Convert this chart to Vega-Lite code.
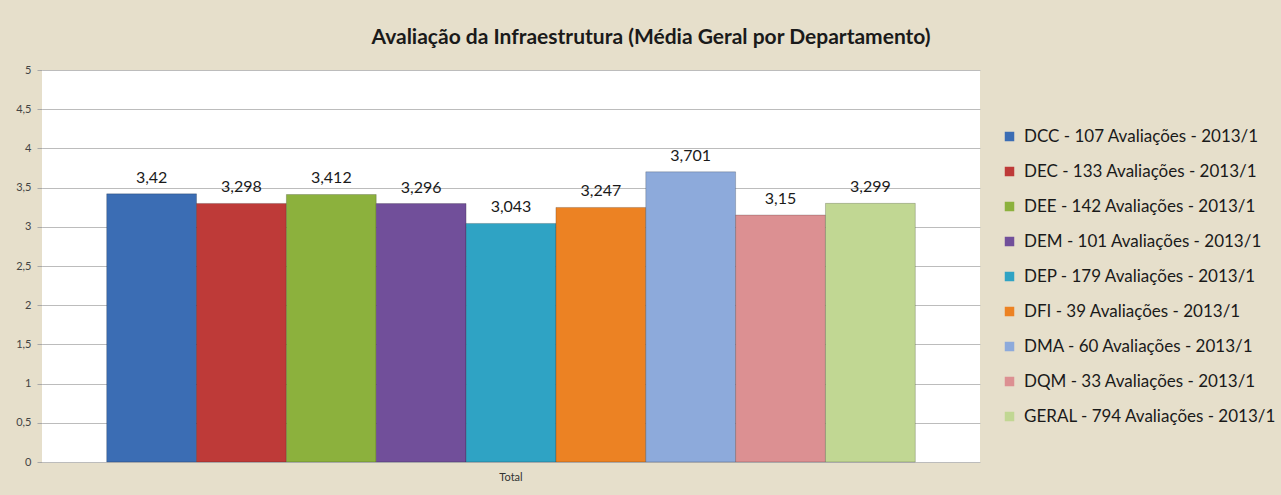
{
  "$schema": "https://vega.github.io/schema/vega-lite/v6.json",
  "width": 938,
  "height": 392,
  "autosize": {"type": "none"},
  "padding": {"left": 42, "top": 70, "right": 301, "bottom": 33},
  "background": "#e6dfcb",
  "config": {
    "locale": {"number": {"decimal": ",", "thousands": ".", "grouping": [3], "currency": ["R$", ""]}},
    "view": {"fill": "white", "stroke": null},
    "font": "Lato"
  },
  "title": {
    "text": "Avaliação da Infraestrutura (Média Geral por Departamento)",
    "fontSize": 21,
    "fontWeight": "bold",
    "font": "Lato",
    "color": "#1a1a1a",
    "anchor": "middle",
    "dx": 140,
    "offset": 16
  },
  "data": {
    "values": [
      {"grupo": "Total", "serie": "DCC - 107 Avaliações - 2013/1", "media": 3.42},
      {"grupo": "Total", "serie": "DEC - 133 Avaliações - 2013/1", "media": 3.298},
      {"grupo": "Total", "serie": "DEE - 142 Avaliações - 2013/1", "media": 3.412},
      {"grupo": "Total", "serie": "DEM - 101 Avaliações - 2013/1", "media": 3.296},
      {"grupo": "Total", "serie": "DEP - 179 Avaliações - 2013/1", "media": 3.043},
      {"grupo": "Total", "serie": "DFI - 39 Avaliações - 2013/1", "media": 3.247},
      {"grupo": "Total", "serie": "DMA - 60 Avaliações - 2013/1", "media": 3.701},
      {"grupo": "Total", "serie": "DQM - 33 Avaliações - 2013/1", "media": 3.15},
      {"grupo": "Total", "serie": "GERAL - 794 Avaliações - 2013/1", "media": 3.299}
    ]
  },
  "encoding": {
    "x": {
      "field": "grupo",
      "type": "nominal",
      "scale": {"paddingOuter": 0.08, "paddingInner": 0},
      "axis": {"title": null, "labelAngle": 0, "ticks": false, "domain": false, "labelFontSize": 11, "labelColor": "#333333", "labelPadding": 9}
    },
    "xOffset": {
      "field": "serie",
      "type": "nominal",
      "sort": null,
      "scale": {"paddingInner": 0, "paddingOuter": 0}
    },
    "y": {
      "field": "media",
      "type": "quantitative",
      "scale": {"domain": [0, 5]},
      "axis": {
        "title": null,
        "values": [0, 0.5, 1, 1.5, 2, 2.5, 3, 3.5, 4, 4.5, 5],
        "format": ".1~f",
        "tickSize": 5,
        "tickColor": "#a8a8a8",
        "gridColor": "#bcbcbc",
        "domain": false,
        "labelFontSize": 11,
        "labelColor": "#444444",
        "labelPadding": 6
      }
    }
  },
  "layer": [
    {
      "mark": {"type": "bar", "stroke": "#00000033", "strokeWidth": 1},
      "encoding": {
        "color": {
          "field": "serie",
          "type": "nominal",
          "scale": {
            "domain": [
              "DCC - 107 Avaliações - 2013/1",
              "DEC - 133 Avaliações - 2013/1",
              "DEE - 142 Avaliações - 2013/1",
              "DEM - 101 Avaliações - 2013/1",
              "DEP - 179 Avaliações - 2013/1",
              "DFI - 39 Avaliações - 2013/1",
              "DMA - 60 Avaliações - 2013/1",
              "DQM - 33 Avaliações - 2013/1",
              "GERAL - 794 Avaliações - 2013/1"
            ],
            "range": ["#3b6db4", "#be3a38", "#8cb13d", "#714f9a", "#2fa3c4", "#ec8223", "#8daadb", "#dc9092", "#c1d793"]
          },
          "legend": {
            "orient": "none",
            "legendX": 959,
            "legendY": 58,
            "title": null,
            "labelFontSize": 17,
            "labelColor": "#1a1a1a",
            "labelLimit": 400,
            "symbolType": "square",
            "symbolSize": 90,
            "symbolStrokeWidth": 0,
            "rowPadding": 17,
            "labelOffset": 6
          }
        }
      }
    },
    {
      "mark": {"type": "text", "baseline": "bottom", "dy": -8, "fontSize": 16, "color": "#1a1a1a"},
      "encoding": {
        "text": {"field": "media", "type": "quantitative", "format": ".3~f"}
      }
    }
  ]
}
